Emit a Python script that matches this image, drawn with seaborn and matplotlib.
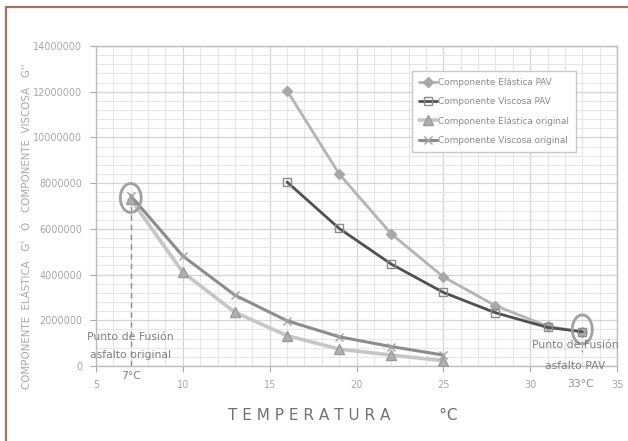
import matplotlib
matplotlib.use("Agg")
import matplotlib.pyplot as plt
import pandas as pd
import seaborn as sns
from matplotlib.patches import Ellipse, Rectangle
from matplotlib.ticker import MultipleLocator

# temperatures (deg C)
temp_pav = [16, 19, 22, 25, 28, 31, 33]
temp_orig = [7, 10, 13, 16, 19, 22, 25]

# moduli
elastica_pav = [12050000, 8400000, 5780000, 3900000, 2640000, 1740000, 1500000]
viscosa_pav = [8050000, 6020000, 4460000, 3220000, 2330000, 1690000, 1500000]
elastica_orig = [7300000, 4100000, 2350000, 1330000, 740000, 480000, 230000]
viscosa_orig = [7450000, 4810000, 3100000, 1980000, 1280000, 850000, 480000]

series = [
    ("Componente Elástica PAV", temp_pav, elastica_pav),
    ("Componente Viscosa PAV", temp_pav, viscosa_pav),
    ("Componente Elástica original", temp_orig, elastica_orig),
    ("Componente Viscosa original", temp_orig, viscosa_orig),
]

styles = {
    "Componente Elástica PAV": dict(color="#b4b4b4", lw=2.0, marker="D", ms=5,
                                    mfc="#a8a8a8", mec="#a8a8a8"),
    "Componente Viscosa PAV": dict(color="#505050", lw=2.0, marker="s", ms=6,
                                   mfc="none", mec="#8a8a8a"),
    "Componente Elástica original": dict(color="#c6c6c6", lw=2.6, marker="^", ms=7,
                                         mfc="#b0b0b0", mec="#9a9a9a"),
    "Componente Viscosa original": dict(color="#8c8c8c", lw=2.2, marker="x", ms=6,
                                        mfc="#a0a0a0", mec="#a0a0a0"),
}

sns.set_style("white")
plt.rcParams["font.family"] = ["DejaVu Sans"]

fig = plt.figure(figsize=(6.28, 4.41), dpi=100)
ax = fig.add_axes([0.1529, 0.170, 0.8296, 0.7257])

for name, xs, ys in series:
    df = pd.DataFrame({"temp": xs, "val": ys})
    st = styles[name]
    sns.lineplot(data=df, x="temp", y="val", ax=ax, label=name, color=st["color"],
                 linewidth=st["lw"], marker=st["marker"], markersize=st["ms"],
                 markerfacecolor=st["mfc"], markeredgecolor=st["mec"],
                 markeredgewidth=1.0, zorder=3)

ax.set_xlim(5, 35)
ax.set_ylim(0, 14000000)
ax.xaxis.set_major_locator(MultipleLocator(5))
ax.xaxis.set_minor_locator(MultipleLocator(1))
ax.yaxis.set_major_locator(MultipleLocator(2000000))
ax.yaxis.set_minor_locator(MultipleLocator(400000))
ax.set_yticklabels([f"{int(v)}" for v in ax.get_yticks()])
ax.grid(which="major", color="#d4d4d4", linewidth=0.9)
ax.grid(which="minor", color="#e6e6e6", linewidth=0.8)
ax.set_axisbelow(True)
for s in ax.spines.values():
    s.set_color("#bdbdbd")
    s.set_linewidth(1.0)
ax.tick_params(axis="both", which="major", labelsize=7, colors="#a8a8a8",
               length=4, width=0.8, direction="out", pad=6)
ax.tick_params(axis="x", which="major", bottom=True)
ax.tick_params(axis="y", which="major", left=True)
ax.tick_params(which="minor", length=0)
ax.set_xlabel("")
ax.set_ylabel("")

leg = ax.legend(loc="upper left", bbox_to_anchor=(0.606, 0.922), fontsize=6.4,
                frameon=True, fancybox=False, handlelength=2.0, handletextpad=0.1,
                labelspacing=1.15, borderpad=0.8, borderaxespad=0, framealpha=1)
leg.get_frame().set_edgecolor("#c8c8c8")
leg.get_frame().set_linewidth(1.0)
for t in leg.get_texts():
    t.set_color("#8a8a8a")

# melting point annotations
ax.add_patch(Ellipse((7, 7350000), 1.2, 1270000, fill=False, ec="#a0a0a0", lw=2, zorder=4))
ax.add_patch(Ellipse((33, 1600000), 1.15, 1270000, fill=False, ec="#a0a0a0", lw=2, zorder=4))
ax.plot([7, 7], [0, 7000000], color="#8c8c8c", lw=1, ls=(0, (4, 3)), zorder=2)
ax.plot([33, 33], [600000, 1100000], color="#8c8c8c", lw=0.8, ls=(0, (2, 2)), zorder=2)
ax.text(7, 1270000, "Punto de Fusión", ha="center", va="center", fontsize=7.8,
        color="#808080", zorder=5)
ax.text(7, 480000, "asfalto original", ha="center", va="center", fontsize=7.8,
        color="#808080", zorder=5)
ax.text(7, -420000, "7°C", ha="center", va="center", fontsize=7.8, color="#808080",
        clip_on=False)
ax.text(32.6, 930000, "Punto de Fusión", ha="center", va="center", fontsize=7.8,
        color="#808080", zorder=5)
ax.text(32.6, 0, "asfalto PAV", ha="center", va="center", fontsize=7.8,
        color="#808080", zorder=5, clip_on=False)
ax.text(32.9, -780000, "33°C", ha="center", va="center", fontsize=7.8, color="#909090",
        clip_on=False)

fig.text(0.043, 0.488, "COMPONENTE  ELÁSTICA   G'   Ó   COMPONENTE  VISCOSA   G''",
         rotation=90, ha="center", va="center", fontsize=7.4, color="#a8a8a8")
fig.text(0.545, 0.058, "T E M P E R A T U R A          °C", ha="center", va="center",
         fontsize=11, color="#707070")

# outer frame
fig.patches.append(Rectangle((6 / 628, -0.05), 1.1, 1 - 7 / 441 + 0.05,
                             transform=fig.transFigure, fill=False, ec="#a07262",
                             lw=1.6, figure=fig))

fig.savefig("out.png", dpi=100)
